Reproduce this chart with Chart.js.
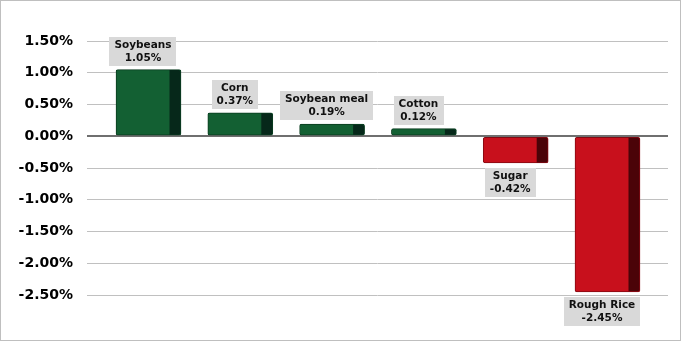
<!DOCTYPE html>
<html>
<head>
<meta charset="utf-8">
<script src="https://cdn.jsdelivr.net/npm/chart.js@4.4.1/dist/chart.umd.min.js"></script>
<style>
    html, body { margin: 0; padding: 0; background: #fff; }
    #wrap { width: 681px; height: 341px; position: relative; }
</style>
</head>
<body>
<div id="wrap"><canvas id="changeChart" width="681" height="341"></canvas></div>
<script>
const categories = ['Soybeans', 'Corn', 'Soybean meal', 'Cotton', 'Sugar', 'Rough Rice'];
const changes = [1.05, 0.37, 0.19, 0.12, -0.42, -2.45];
const yTicks = [1.5, 1.0, 0.5, 0, -0.5, -1.0, -1.5, -2.0, -2.5];

const GREEN = '#136033', GREEN_SIDE = '#06281a', GREEN_EDGE = '#0b3d20';
const RED = '#c8101c', RED_SIDE = '#4b0308', RED_EDGE = '#850a12';
const SIDE_W = 11;

const fmt = v => v.toFixed(2) + '%';

// border around the whole picture
const frame = {
    id: 'frame',
    beforeDraw(chart) {
        const c = chart.ctx;
        c.save();
        c.fillStyle = '#fff';
        c.fillRect(0, 0, chart.width, chart.height);
        c.strokeStyle = '#bfbfbf';
        c.lineWidth = 1;
        c.strokeRect(0.5, 0.5, chart.width - 1, chart.height - 1);
        c.restore();
    }
};

// dark right-hand side of each bar + grey label boxes
const barDecor = {
    id: 'barDecor',
    afterDatasetsDraw(chart) {
        const c = chart.ctx;
        const meta = chart.getDatasetMeta(0);
        c.save();
        meta.data.forEach((bar, i) => {
            const v = changes[i];
            const right = bar.x + bar.width / 2;
            const top = Math.min(bar.y, bar.base);
            const bottom = Math.max(bar.y, bar.base);
            c.fillStyle = v >= 0 ? GREEN_SIDE : RED_SIDE;
            c.beginPath();
            c.roundRect(right - SIDE_W - 0.5, top + 0.5, SIDE_W, bottom - top - 1, [0, 2, 2, 0]);
            c.fill();

            // label
            const lines = [categories[i], fmt(v)];
            c.font = 'bold 10.5px "DejaVu Sans"';
            const tw = Math.max(...lines.map(l => c.measureText(l).width));
            const bw = tw + 10, bh = 29;
            const cx = bar.x - SIDE_W / 2;
            const by = v >= 0 ? top - 4 - bh : bottom + 5;
            c.fillStyle = '#d9d9d9';
            c.fillRect(Math.round(cx - bw / 2), Math.round(by), Math.round(bw), bh);
            c.fillStyle = '#111';
            c.textAlign = 'center';
            c.textBaseline = 'middle';
            c.fillText(lines[0], cx, by + 8.5);
            c.fillText(lines[1], cx, by + 21.5);
        });
        c.restore();
    }
};

new Chart(document.getElementById('changeChart'), {
    type: 'bar',
    data: {
        datasets: [{
            data: changes.map((v, i) => ({ x: i, y: v })),
            backgroundColor: changes.map(v => v >= 0 ? GREEN : RED),
            borderColor: changes.map(v => v >= 0 ? GREEN_EDGE : RED_EDGE),
            borderWidth: 1,
            borderRadius: 2,
            borderSkipped: false,
            barThickness: 65
        }]
    },
    options: {
        responsive: false,
        animation: false,
        layout: { padding: { left: 0, right: 13, top: 41, bottom: 46 } },
        plugins: { legend: { display: false }, tooltip: { enabled: false } },
        scales: {
            x: {
                type: 'linear',
                display: false,
                offset: false,
                min: -0.670,
                max: 5.659
            },
            y: {
                min: -2.5,
                max: 1.5,
                afterBuildTicks: scale => { scale.ticks = yTicks.map(v => ({ value: v })); },
                afterFit: scale => { scale.width = 87; },
                border: { display: false },
                grid: {
                    drawTicks: false,
                    color: ctx => ctx.tick && ctx.tick.value === 0 ? '#6f6f6f' : '#c0c0c0',
                    lineWidth: ctx => ctx.tick && ctx.tick.value === 0 ? 2 : 1
                },
                ticks: {
                    padding: 14,
                    color: '#000',
                    font: { family: '"DejaVu Sans"', size: 14, weight: 'bold' },
                    callback: v => fmt(v)
                }
            }
        }
    },
    plugins: [frame, barDecor]
});
</script>
</body>
</html>
